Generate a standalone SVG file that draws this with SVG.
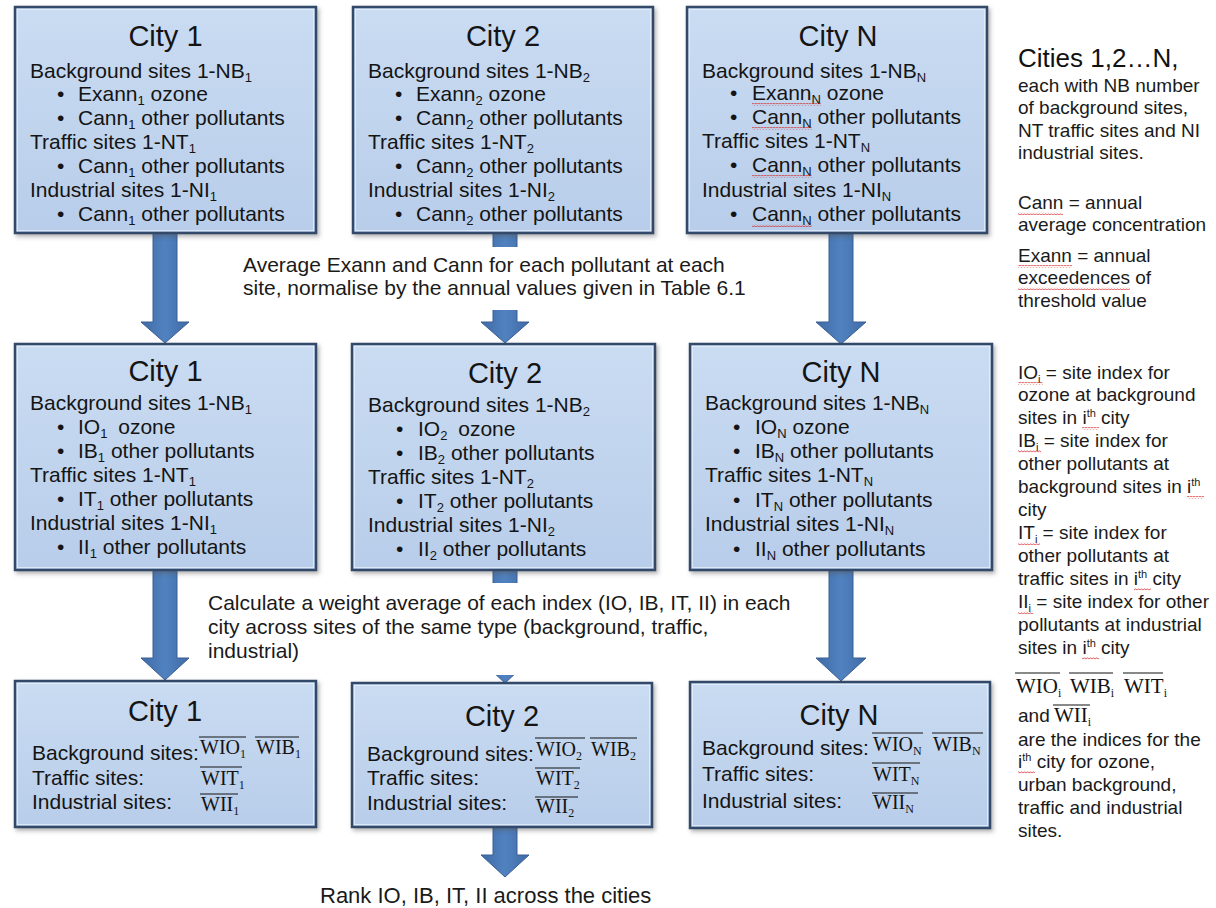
<svg xmlns="http://www.w3.org/2000/svg" width="1216" height="908" viewBox="0 0 1216 908">
<defs>
<linearGradient id="boxFill" x1="0" y1="0" x2="0" y2="1">
<stop offset="0" stop-color="#cadcf2"/>
<stop offset="1" stop-color="#b8cdea"/>
</linearGradient>
<linearGradient id="arrowFill" x1="0" y1="0" x2="1" y2="0">
<stop offset="0" stop-color="#3f6ba7"/>
<stop offset="0.5" stop-color="#5182c0"/>
<stop offset="1" stop-color="#3f6ba7"/>
</linearGradient>
<filter id="shadow" x="-5%" y="-5%" width="112%" height="115%">
<feDropShadow dx="2" dy="2.5" stdDeviation="2" flood-color="#555" flood-opacity="0.45"/>
</filter>
<pattern id="squig" width="3" height="3" patternUnits="userSpaceOnUse">
<path d="M0 2.3 L1.5 0.7 L3 2.3" fill="none" stroke="#d42020" stroke-width="0.8"/>
</pattern>
<style>
.box{fill:url(#boxFill);stroke:#30496a;stroke-width:2.5;filter:url(#shadow)}
.hl{fill:none;stroke:#e6effa;stroke-width:1;opacity:0.8}
.arrow{fill:url(#arrowFill);stroke:#3a5f93;stroke-width:1}
.title{font-family:"Liberation Sans",Arial,sans-serif;font-size:29px;fill:#141414;text-anchor:middle}
.b{font-family:"Liberation Sans",Arial,sans-serif;font-size:21px;fill:#141414}
.sub{font-size:13px}
.w{font-family:"Liberation Serif","Times New Roman",serif;font-size:20px;fill:#141414}
.ws{font-size:12px}
.ov{stroke:#141414;stroke-width:1.2}
.lbl{font-family:"Liberation Sans",Arial,sans-serif;font-size:21px;fill:#1a1a1a}
.r{font-family:"Liberation Sans",Arial,sans-serif;font-size:19px;fill:#1a1a1a}
.big{font-family:"Liberation Sans",Arial,sans-serif;font-size:26px;fill:#111}
.rs{font-size:11px}
.sq{fill:url(#squig)}
</style>
</defs>
<rect width="1216" height="908" fill="#ffffff"/>

<g id="connectors">
<path class="arrow" d="M153 233 H177 V322 H189 L165 343 L141 322 H153 Z"/>
<path class="arrow" d="M493 233 H517 V322 H529 L505 343 L481 322 H493 Z"/>
<path class="arrow" d="M829 233 H853 V322 H866 L841 344 L816 322 H829 Z"/>
<path class="arrow" d="M153 570 H177 V658 H189 L165 680 L141 658 H153 Z"/>
<path class="arrow" d="M493 570 H517 V661 H529 L505 683 L481 661 H493 Z"/>
<path class="arrow" d="M829 570 H853 V658 H866 L841 681 L816 658 H829 Z"/>
<path class="arrow" d="M493 827 H517 V855 H529 L505 877 L481 855 H493 Z"/>
</g>

<g id="label-normalise">
<rect x="200" y="247" width="560" height="63" fill="#ffffff"/>
<text class="lbl" x="243" y="272">Average Exann and Cann for each pollutant at each</text>
<text class="lbl" x="243" y="295">site, normalise by the annual values given in Table 6.1</text>
</g>
<g id="label-weight">
<rect x="200" y="583" width="600" height="92" fill="#ffffff"/>
<text class="lbl" x="208" y="610">Calculate a weight average of each index (IO, IB, IT, II) in each</text>
<text class="lbl" x="208" y="634">city across sites of the same type (background, traffic,</text>
<text class="lbl" x="208" y="658">industrial)</text>
</g>
<g id="label-rank">
<text class="lbl" x="320" y="903" style="font-size:22px">Rank IO, IB, IT, II across the cities</text>
</g>

<!-- Row 1 -->
<g id="r1-city1">
<rect class="box" x="15" y="7" width="301" height="226"/>
<rect class="hl" x="17.5" y="9.5" width="296" height="221"/>
<text class="title" x="165.5" y="46">City 1</text>
<text class="b" x="30" y="78">Background sites 1-NB<tspan class="sub" dy="4">1</tspan></text>
<text class="b" x="57" y="101">•</text>
<text class="b" x="78" y="101">Exann<tspan class="sub" dy="4">1</tspan><tspan dy="-4"> ozone</tspan></text>
<text class="b" x="57" y="125">•</text>
<text class="b" x="78" y="125">Cann<tspan class="sub" dy="4">1</tspan><tspan dy="-4"> other pollutants</tspan></text>
<text class="b" x="30" y="149">Traffic sites 1-NT<tspan class="sub" dy="4">1</tspan></text>
<text class="b" x="57" y="173">•</text>
<text class="b" x="78" y="173">Cann<tspan class="sub" dy="4">1</tspan><tspan dy="-4"> other pollutants</tspan></text>
<text class="b" x="30" y="197">Industrial sites 1-NI<tspan class="sub" dy="4">1</tspan></text>
<text class="b" x="57" y="221">•</text>
<text class="b" x="78" y="221">Cann<tspan class="sub" dy="4">1</tspan><tspan dy="-4"> other pollutants</tspan></text>
</g>

<g id="r1-city2">
<rect class="box" x="353" y="7" width="300" height="226"/>
<rect class="hl" x="355.5" y="9.5" width="295" height="221"/>
<text class="title" x="503" y="46">City 2</text>
<text class="b" x="368" y="78">Background sites 1-NB<tspan class="sub" dy="4">2</tspan></text>
<text class="b" x="395" y="101">•</text>
<text class="b" x="416" y="101">Exann<tspan class="sub" dy="4">2</tspan><tspan dy="-4"> ozone</tspan></text>
<text class="b" x="395" y="125">•</text>
<text class="b" x="416" y="125">Cann<tspan class="sub" dy="4">2</tspan><tspan dy="-4"> other pollutants</tspan></text>
<text class="b" x="368" y="149">Traffic sites 1-NT<tspan class="sub" dy="4">2</tspan></text>
<text class="b" x="395" y="173">•</text>
<text class="b" x="416" y="173">Cann<tspan class="sub" dy="4">2</tspan><tspan dy="-4"> other pollutants</tspan></text>
<text class="b" x="368" y="197">Industrial sites 1-NI<tspan class="sub" dy="4">2</tspan></text>
<text class="b" x="395" y="221">•</text>
<text class="b" x="416" y="221">Cann<tspan class="sub" dy="4">2</tspan><tspan dy="-4"> other pollutants</tspan></text>
</g>

<g id="r1-cityN">
<rect class="box" x="687" y="7" width="300" height="226"/>
<rect class="hl" x="689.5" y="9.5" width="295" height="221"/>
<text class="title" x="838" y="46">City N</text>
<text class="b" x="702" y="78">Background sites 1-NB<tspan class="sub" dy="4">N</tspan></text>
<text class="b" x="730" y="100">•</text>
<text class="b" x="752" y="100">Exann<tspan class="sub" dy="4">N</tspan><tspan dy="-4"> ozone</tspan></text>
<text class="b" x="730" y="124">•</text>
<text class="b" x="752" y="124">Cann<tspan class="sub" dy="4">N</tspan><tspan dy="-4"> other pollutants</tspan></text>
<text class="b" x="702" y="148">Traffic sites 1-NT<tspan class="sub" dy="4">N</tspan></text>
<text class="b" x="730" y="172">•</text>
<text class="b" x="752" y="172">Cann<tspan class="sub" dy="4">N</tspan><tspan dy="-4"> other pollutants</tspan></text>
<text class="b" x="702" y="197">Industrial sites 1-NI<tspan class="sub" dy="4">N</tspan></text>
<text class="b" x="730" y="221">•</text>
<text class="b" x="752" y="221">Cann<tspan class="sub" dy="4">N</tspan><tspan dy="-4"> other pollutants</tspan></text>
<rect class="sq" x="752" y="103" width="69" height="3"/>
<rect class="sq" x="752" y="127" width="60" height="3"/>
<rect class="sq" x="752" y="175" width="60" height="3"/>
<rect class="sq" x="752" y="224" width="60" height="3"/>
</g>

<!-- Row 2 -->
<g id="r2-city1">
<rect class="box" x="15" y="344" width="301" height="226"/>
<rect class="hl" x="17.5" y="346.5" width="296" height="221"/>
<text class="title" x="165.5" y="381">City 1</text>
<text class="b" x="30" y="410">Background sites 1-NB<tspan class="sub" dy="4">1</tspan></text>
<text class="b" x="57" y="434">•</text>
<text class="b" x="78" y="434">IO<tspan class="sub" dy="4">1</tspan><tspan dy="-4" dx="5"> ozone</tspan></text>
<text class="b" x="57" y="458">•</text>
<text class="b" x="78" y="458">IB<tspan class="sub" dy="4">1</tspan><tspan dy="-4"> other pollutants</tspan></text>
<text class="b" x="30" y="482">Traffic sites 1-NT<tspan class="sub" dy="4">1</tspan></text>
<text class="b" x="57" y="506">•</text>
<text class="b" x="78" y="506">IT<tspan class="sub" dy="4">1</tspan><tspan dy="-4"> other pollutants</tspan></text>
<text class="b" x="30" y="530">Industrial sites 1-NI<tspan class="sub" dy="4">1</tspan></text>
<text class="b" x="57" y="554">•</text>
<text class="b" x="78" y="554">II<tspan class="sub" dy="4">1</tspan><tspan dy="-4"> other pollutants</tspan></text>
</g>

<g id="r2-city2">
<rect class="box" x="352" y="344" width="303" height="226"/>
<rect class="hl" x="354.5" y="346.5" width="298" height="221"/>
<text class="title" x="505" y="383">City 2</text>
<text class="b" x="368" y="412">Background sites 1-NB<tspan class="sub" dy="4">2</tspan></text>
<text class="b" x="396" y="436">•</text>
<text class="b" x="418" y="436">IO<tspan class="sub" dy="4">2</tspan><tspan dy="-4" dx="5"> ozone</tspan></text>
<text class="b" x="396" y="460">•</text>
<text class="b" x="418" y="460">IB<tspan class="sub" dy="4">2</tspan><tspan dy="-4"> other pollutants</tspan></text>
<text class="b" x="368" y="484">Traffic sites 1-NT<tspan class="sub" dy="4">2</tspan></text>
<text class="b" x="396" y="508">•</text>
<text class="b" x="418" y="508">IT<tspan class="sub" dy="4">2</tspan><tspan dy="-4"> other pollutants</tspan></text>
<text class="b" x="368" y="532">Industrial sites 1-NI<tspan class="sub" dy="4">2</tspan></text>
<text class="b" x="396" y="556">•</text>
<text class="b" x="418" y="556">II<tspan class="sub" dy="4">2</tspan><tspan dy="-4"> other pollutants</tspan></text>
</g>

<g id="r2-cityN">
<rect class="box" x="690" y="344" width="302" height="226"/>
<rect class="hl" x="692.5" y="346.5" width="297" height="221"/>
<text class="title" x="841" y="382">City N</text>
<text class="b" x="705" y="410">Background sites 1-NB<tspan class="sub" dy="4">N</tspan></text>
<text class="b" x="733" y="434">•</text>
<text class="b" x="755" y="434">IO<tspan class="sub" dy="4">N</tspan><tspan dy="-4"> ozone</tspan></text>
<text class="b" x="733" y="458">•</text>
<text class="b" x="755" y="458">IB<tspan class="sub" dy="4">N</tspan><tspan dy="-4"> other pollutants</tspan></text>
<text class="b" x="705" y="482">Traffic sites 1-NT<tspan class="sub" dy="4">N</tspan></text>
<text class="b" x="733" y="507">•</text>
<text class="b" x="755" y="507">IT<tspan class="sub" dy="4">N</tspan><tspan dy="-4"> other pollutants</tspan></text>
<text class="b" x="705" y="531">Industrial sites 1-NI<tspan class="sub" dy="4">N</tspan></text>
<text class="b" x="733" y="556">•</text>
<text class="b" x="755" y="556">II<tspan class="sub" dy="4">N</tspan><tspan dy="-4"> other pollutants</tspan></text>
</g>

<!-- Row 3 -->
<g id="r3-city1">
<rect class="box" x="15" y="681" width="301" height="146"/>
<rect class="hl" x="17.5" y="683.5" width="296" height="141"/>
<text class="title" x="165" y="721">City 1</text>
<text class="b" x="32" y="760">Background sites:</text>
<text class="b" x="32" y="785">Traffic sites:</text>
<text class="b" x="32" y="809">Industrial sites:</text>
<line class="ov" x1="199" y1="737" x2="246" y2="737"/>
<text class="w" x="200" y="754">WIO<tspan class="ws" dy="4">1</tspan></text>
<line class="ov" x1="255" y1="737" x2="299" y2="737"/>
<text class="w" x="256" y="754">WIB<tspan class="ws" dy="4">1</tspan></text>
<line class="ov" x1="200" y1="767" x2="242" y2="767"/>
<text class="w" x="201" y="785">WIT<tspan class="ws" dy="4">1</tspan></text>
<line class="ov" x1="200" y1="794" x2="238" y2="794"/>
<text class="w" x="201" y="811">WII<tspan class="ws" dy="4">1</tspan></text>
</g>

<g id="r3-city2">
<rect class="box" x="352" y="683" width="300" height="144"/>
<rect class="hl" x="354.5" y="685.5" width="295" height="139"/>
<text class="title" x="502" y="726">City 2</text>
<text class="b" x="367" y="761">Background sites:</text>
<text class="b" x="367" y="785">Traffic sites:</text>
<text class="b" x="367" y="810">Industrial sites:</text>
<line class="ov" x1="535" y1="738" x2="585" y2="738"/>
<text class="w" x="536" y="756">WIO<tspan class="ws" dy="4">2</tspan></text>
<line class="ov" x1="590" y1="738" x2="637" y2="738"/>
<text class="w" x="591" y="756">WIB<tspan class="ws" dy="4">2</tspan></text>
<line class="ov" x1="535" y1="768" x2="580" y2="768"/>
<text class="w" x="536" y="785">WIT<tspan class="ws" dy="4">2</tspan></text>
<line class="ov" x1="535" y1="797" x2="578" y2="797"/>
<text class="w" x="536" y="813">WII<tspan class="ws" dy="4">2</tspan></text>
</g>

<g id="r3-cityN">
<rect class="box" x="690" y="682" width="300" height="146"/>
<rect class="hl" x="692.5" y="684.5" width="295" height="141"/>
<text class="title" x="839" y="725">City N</text>
<text class="b" x="702" y="755">Background sites:</text>
<text class="b" x="702" y="781">Traffic sites:</text>
<text class="b" x="702" y="808">Industrial sites:</text>
<line class="ov" x1="872" y1="733" x2="923" y2="733"/>
<text class="w" x="873" y="751">WIO<tspan class="ws" dy="4">N</tspan></text>
<line class="ov" x1="932" y1="733" x2="983" y2="733"/>
<text class="w" x="933" y="751">WIB<tspan class="ws" dy="4">N</tspan></text>
<line class="ov" x1="872" y1="763" x2="920" y2="763"/>
<text class="w" x="873" y="781">WIT<tspan class="ws" dy="4">N</tspan></text>
<line class="ov" x1="872" y1="793" x2="918" y2="793"/>
<text class="w" x="873" y="809">WII<tspan class="ws" dy="4">N</tspan></text>
</g>

<!-- Right-hand notes -->
<g id="notes">
<text class="big" x="1018" y="67">Cities 1,2…N,</text>
<text class="r" x="1018" y="92">each with NB number</text>
<text class="r" x="1018" y="114">of background sites,</text>
<text class="r" x="1018" y="137">NT traffic sites and NI</text>
<text class="r" x="1018" y="159">industrial sites.</text>
<text class="r" x="1018" y="209">Cann = annual</text>
<text class="r" x="1018" y="231">average concentration</text>
<text class="r" x="1018" y="262">Exann = annual</text>
<text class="r" x="1018" y="284">exceedences of</text>
<text class="r" x="1018" y="307">threshold value</text>
<rect class="sq" x="1018" y="212" width="45" height="3"/>
<rect class="sq" x="1018" y="265" width="54" height="3"/>
<rect class="sq" x="1018" y="287" width="112" height="3"/>

<text class="r" x="1018" y="379">IO<tspan class="rs" dy="4">i</tspan><tspan dy="-4"> = site index for</tspan></text>
<text class="r" x="1018" y="401">ozone at background</text>
<text class="r" x="1018" y="424">sites in i<tspan class="rs" dy="-7">th</tspan><tspan dy="7"> city</tspan></text>
<text class="r" x="1018" y="447">IB<tspan class="rs" dy="4">i</tspan><tspan dy="-4"> = site index for</tspan></text>
<text class="r" x="1018" y="470">other pollutants at</text>
<text class="r" x="1018" y="493">background sites in i<tspan class="rs" dy="-7">th</tspan></text>
<text class="r" x="1018" y="516">city</text>
<text class="r" x="1018" y="539">IT<tspan class="rs" dy="4">i</tspan><tspan dy="-4"> = site index for</tspan></text>
<text class="r" x="1018" y="562">other pollutants at</text>
<text class="r" x="1018" y="585">traffic sites in i<tspan class="rs" dy="-7">th</tspan><tspan dy="7"> city</tspan></text>
<text class="r" x="1018" y="608">II<tspan class="rs" dy="4">i</tspan><tspan dy="-4"> = site index for other</tspan></text>
<text class="r" x="1018" y="631">pollutants at industrial</text>
<text class="r" x="1018" y="654">sites in i<tspan class="rs" dy="-7">th</tspan><tspan dy="7"> city</tspan></text>
<rect class="sq" x="1018" y="382" width="25" height="3"/>
<rect class="sq" x="1082" y="427" width="17" height="3"/>
<rect class="sq" x="1018" y="450" width="23" height="3"/>
<rect class="sq" x="1187" y="496" width="17" height="3"/>
<rect class="sq" x="1018" y="542" width="22" height="3"/>
<rect class="sq" x="1134" y="588" width="17" height="3"/>
<rect class="sq" x="1018" y="611" width="15" height="3"/>
<rect class="sq" x="1082" y="657" width="17" height="3"/>

<line class="ov" x1="1015" y1="673" x2="1060" y2="673"/>
<text class="w" x="1016" y="693" style="font-size:21px">WIO<tspan class="ws" dy="4">i</tspan></text>
<line class="ov" x1="1069" y1="673" x2="1113" y2="673"/>
<text class="w" x="1070" y="693" style="font-size:21px">WIB<tspan class="ws" dy="4">i</tspan></text>
<line class="ov" x1="1123" y1="673" x2="1163" y2="673"/>
<text class="w" x="1124" y="693" style="font-size:21px">WIT<tspan class="ws" dy="4">i</tspan></text>
<text class="r" x="1018" y="722">and</text>
<line class="ov" x1="1053" y1="705" x2="1090" y2="705"/>
<text class="w" x="1054" y="722" style="font-size:21px">WII<tspan class="ws" dy="4">i</tspan></text>
<text class="r" x="1018" y="746">are the indices for the</text>
<text class="r" x="1018" y="768">i<tspan class="rs" dy="-7">th</tspan><tspan dy="7"> city for ozone,</tspan></text>
<text class="r" x="1018" y="791">urban background,</text>
<text class="r" x="1018" y="814">traffic and industrial</text>
<text class="r" x="1018" y="837">sites.</text>
<rect class="sq" x="1018" y="771" width="17" height="3"/>
</g>
</svg>
